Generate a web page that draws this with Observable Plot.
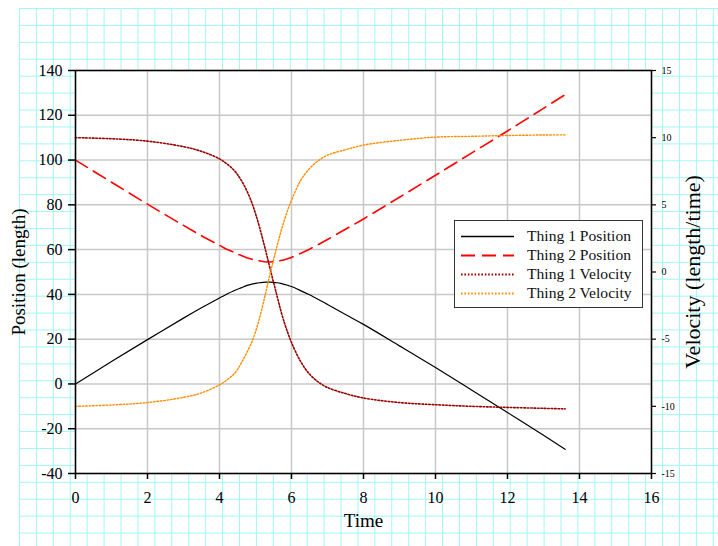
<!DOCTYPE html>
<html>
<head>
<meta charset="utf-8">
<script src="https://cdn.jsdelivr.net/npm/d3@7"></script>
<script src="https://cdn.jsdelivr.net/npm/@observablehq/plot@0.6"></script>
<style>
  html, body { margin: 0; padding: 0; background: white; }
  #wrap { position: relative; width: 718px; height: 546px; overflow: hidden; background: white; }
  #paper {
    position: absolute; left: 19px; top: 8px; width: 699px; height: 538px;
    background-image:
      linear-gradient(to right, #9ff7f7 1px, transparent 1px),
      linear-gradient(to bottom, #9ff7f7 1px, transparent 1px);
    background-size: 16.93px 16.93px;
  }
  #chart { position: absolute; left: 0; top: 0; }
  #legend {
    position: absolute; left: 454px; top: 220px; width: 187px; height: 86px;
    background: white; border: 1.5px solid #333;
    font-family: "Liberation Serif", "Times New Roman", serif; font-size: 15.6px; color: #111;
  }
  .row { position: absolute; left: 0; height: 20px; display: flex; align-items: center; }
  .row svg { margin-left: 6px; }
  .row span { margin-left: 13px; white-space: nowrap; }
</style>
</head>
<body>
<div id="wrap">
  <div id="paper"></div>
  <div id="chart"></div>
  <div id="legend"></div>
</div>
<script>
// ---- data ----
const time = [0, 1, 2, 3, 3.5, 4, 4.25, 4.4, 4.5, 4.6, 4.75, 4.9, 5, 5.1, 5.2, 5.3, 5.4, 5.5, 5.6, 5.7, 5.8, 5.9, 6, 6.25, 6.5, 6.75, 7, 7.5, 8, 9, 10, 11, 12, 13, 13.6];
const thing1Position = [0, 10, 19.8, 29.4, 34.0, 38.4, 40.5, 41.6, 42.3, 42.9, 43.9, 44.6, 44.9, 45.2, 45.4, 45.5, 45.5, 45.4, 45.2, 44.9, 44.5, 44.0, 43.5, 41.7, 39.8, 37.7, 35.5, 31.0, 26.6, 17.0, 7.3, -2.7, -12.8, -22.9, -29.2];
const thing2Position = [100, 90.1, 80.3, 70.8, 66.2, 61.9, 59.8, 58.8, 58.0, 57.4, 56.4, 55.7, 55.3, 55.0, 54.7, 54.5, 54.5, 54.6, 54.8, 55.1, 55.5, 56.0, 56.5, 58.3, 60.2, 62.3, 64.5, 69.1, 73.7, 83.4, 93.2, 103.1, 113.0, 123.1, 129.2];
const thing1Velocity = [10.0, 9.92, 9.74, 9.33, 8.98, 8.42, 7.95, 7.58, 7.25, 6.85, 6.1, 5.15, 4.35, 3.45, 2.45, 1.4, 0.3, -0.75, -1.8, -2.85, -3.75, -4.55, -5.25, -6.65, -7.6, -8.2, -8.6, -9.05, -9.38, -9.72, -9.88, -10.0, -10.08, -10.15, -10.19];
const thing2Velocity = [-10.0, -9.9, -9.72, -9.33, -9.0, -8.4, -7.95, -7.6, -7.25, -6.8, -6.05, -5.2, -4.45, -3.55, -2.5, -1.35, -0.2, 0.9, 1.95, 2.95, 3.85, 4.65, 5.35, 6.8, 7.7, 8.3, 8.7, 9.1, 9.45, 9.8, 10.04, 10.1, 10.16, 10.2, 10.21];

const xTicks = [0, 2, 4, 6, 8, 10, 12, 14, 16];
const positionTicks = [-40, -20, 0, 20, 40, 60, 80, 100, 120, 140];
const velocityTicks = [-15, -10, -5, 0, 5, 10, 15];

const seriesNames = ["Thing 1 Position", "Thing 2 Position", "Thing 1 Velocity", "Thing 2 Velocity"];

// velocity axis (-15..15) shares the position axis (-40..140)
const vToP = v => 50 + 6 * v;
const pToV = p => (p - 50) / 6;

const rows = time.map((t, i) => ({
  t,
  p1: thing1Position[i],
  p2: thing2Position[i],
  v1: vToP(thing1Velocity[i]),
  v2: vToP(thing2Velocity[i])
}));

const styles = [
  {stroke: "#000000", strokeWidth: 1.2, dash: null},
  {stroke: "#ff0000", strokeWidth: 1.6, dash: "14,7"},
  {stroke: "#990000", strokeWidth: 1.6, dash: "1.6,1.8"},
  {stroke: "#ff8c00", strokeWidth: 1.4, dash: "1.6,1.8"}
];
const keys = ["p1", "p2", "v1", "v2"];

const gridStyle = {stroke: "#c8c8c8", strokeWidth: 1.5, strokeOpacity: 1};
const serif = "'Liberation Serif', 'Times New Roman', serif";

const chart = Plot.plot({
  width: 718,
  height: 546,
  marginLeft: 75,
  marginRight: 67,
  marginTop: 70,
  marginBottom: 73,
  style: {fontFamily: serif, background: "transparent", color: "black", overflow: "visible"},
  x: {domain: [0, 16]},
  y: {domain: [-40, 140]},
  marks: [
    Plot.frame({fill: "white", stroke: null}),
    Plot.gridX({ticks: xTicks, ...gridStyle}),
    Plot.gridY({ticks: positionTicks, ...gridStyle}),
    ...keys.map((k, i) => Plot.line(rows, {
      x: "t", y: k, curve: "catmull-rom",
      stroke: styles[i].stroke, strokeWidth: styles[i].strokeWidth,
      strokeDasharray: styles[i].dash
    })),
    Plot.frame({stroke: "black", strokeWidth: 1.5}),
    Plot.axisX({ticks: xTicks, tickSize: 6, tickPadding: 12, fontSize: 16, label: null, tickFormat: d => String(d), strokeWidth: 1.5}),
    Plot.axisY({ticks: positionTicks, anchor: "left", tickSize: 7, tickPadding: 6, fontSize: 16, label: null, tickFormat: d => String(d), strokeWidth: 1.5}),
    Plot.axisY({ticks: velocityTicks.map(vToP), anchor: "right", tickSize: 4, tickPadding: 6, fontSize: 10, label: null, tickFormat: p => String(Math.round(pToV(p))), strokeWidth: 1.2}),
    Plot.text(["Position (length)"], {frameAnchor: "left", textAnchor: "middle", dx: -57, rotate: -90, fontSize: 19, fill: "black"}),
    Plot.text(["Velocity (length/time)"], {frameAnchor: "right", textAnchor: "middle", dx: 41, rotate: -90, fontSize: 22, fill: "black"}),
    Plot.text(["Time"], {frameAnchor: "bottom", textAnchor: "middle", dy: 53, fontSize: 19, fill: "black"})
  ]
});
document.getElementById("chart").appendChild(chart);

// legend
const legend = document.getElementById("legend");
const rowTops = [5, 24, 43, 62];
seriesNames.forEach((name, i) => {
  const r = document.createElement("div");
  r.className = "row";
  r.style.top = rowTops[i] + "px";
  const s = styles[i];
  r.innerHTML = `<svg width="53" height="20"><line x1="0" x2="53" y1="10.5" y2="10.5" stroke="${s.stroke}" stroke-width="${s.strokeWidth + 0.4}" ${s.dash ? `stroke-dasharray="${s.dash}"` : ""}/></svg><span>${name}</span>`;
  legend.appendChild(r);
});
</script>
</body>
</html>
